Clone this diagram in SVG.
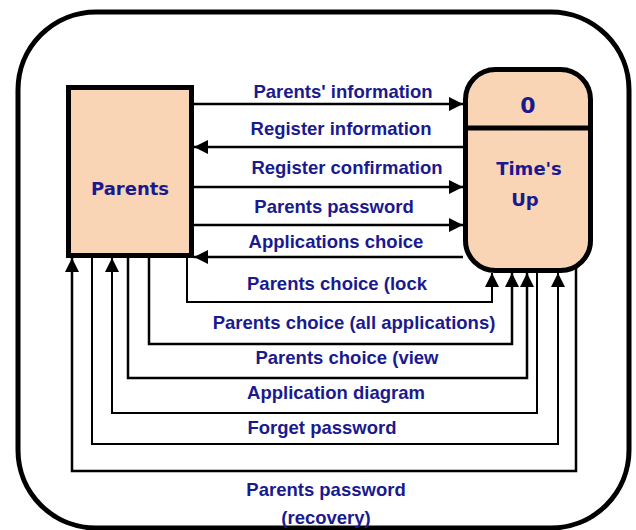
<svg xmlns="http://www.w3.org/2000/svg" width="636" height="530" viewBox="0 0 636 530">
  <style>
    .frame { fill: #ffffff; stroke: #000000; stroke-width: 5; }
    .node { fill: #F9D5B6; stroke: #000000; stroke-width: 5; }
    .flow { fill: none; stroke: #000000; stroke-width: 2.5; }
    .flow-thin { fill: none; stroke: #000000; stroke-width: 2; }
    .lbl { font-family: "Liberation Sans", Arial, sans-serif; font-weight: bold; font-size: 18.5px; fill: #1A1A8E; text-anchor: middle; }
    .ntxt { font-family: "DejaVu Sans", "Comic Sans MS", sans-serif; font-weight: bold; font-size: 18px; fill: #1A1A8E; text-anchor: middle; }
    .num { font-size: 22px; }
  </style>
  <defs>
    <marker id="arrow" viewBox="0 0 14 14" refX="14" refY="7" markerWidth="14" markerHeight="14" orient="auto" markerUnits="userSpaceOnUse">
      <path d="M0,0 L14,7 L0,14 z" fill="#000000"/>
    </marker>
  </defs>

  <!-- system boundary -->
  <rect class="frame" x="18" y="12" width="611" height="516" rx="78" ry="78"/>

  <!-- data flows -->
  <g id="connectors">
    <path class="flow" d="M194,104 H463" marker-end="url(#arrow)"/>
    <path class="flow" d="M463,147 H194" marker-end="url(#arrow)"/>
    <path class="flow" d="M194,187 H463" marker-end="url(#arrow)"/>
    <path class="flow" d="M194,225 H463" marker-end="url(#arrow)"/>
    <path class="flow" d="M463,257 H194" marker-end="url(#arrow)"/>
    <path class="flow-thin" d="M187,258 V302 H492 V273" marker-end="url(#arrow)"/>
    <path class="flow" d="M149,258 V344 H512 V273" marker-end="url(#arrow)"/>
    <path class="flow" d="M128,258 V378 H527 V273" marker-end="url(#arrow)"/>
    <path class="flow-thin" d="M537,270 V413 H112 V258" marker-end="url(#arrow)"/>
    <path class="flow-thin" d="M92,258 V444 H558 V273" marker-end="url(#arrow)"/>
    <path class="flow" d="M576,268 V471 H72 V258" marker-end="url(#arrow)"/>
  </g>

  <!-- flow labels -->
  <g id="labels">
    <text class="lbl" x="343" y="98">Parents' information</text>
    <text class="lbl" x="341" y="135">Register information</text>
    <text class="lbl" x="347" y="174">Register confirmation</text>
    <text class="lbl" x="334" y="213">Parents password</text>
    <text class="lbl" x="336" y="248">Applications choice</text>
    <text class="lbl" x="337" y="290">Parents choice (lock</text>
    <text class="lbl" x="354" y="329">Parents choice (all applications)</text>
    <text class="lbl" x="347" y="364">Parents choice (view</text>
    <text class="lbl" x="336" y="399">Application diagram</text>
    <text class="lbl" x="322" y="434">Forget password</text>
    <text class="lbl" x="326" y="496">Parents password</text>
    <text class="lbl" x="326" y="524">(recovery)</text>
  </g>

  <!-- external entity -->
  <g id="parents">
    <rect class="node" x="68.5" y="87.5" width="123" height="168"/>
    <text class="ntxt" x="130" y="195">Parents</text>
  </g>

  <!-- process -->
  <g id="times-up">
    <rect class="node" x="465.5" y="69.5" width="125" height="201" rx="30" ry="30"/>
    <line x1="465.5" y1="128" x2="590.5" y2="128" stroke="#000000" stroke-width="5"/>
    <text class="ntxt num" x="528" y="113">0</text>
    <text class="ntxt" x="529" y="175">Time's</text>
    <text class="ntxt" x="525" y="206">Up</text>
  </g>
</svg>
